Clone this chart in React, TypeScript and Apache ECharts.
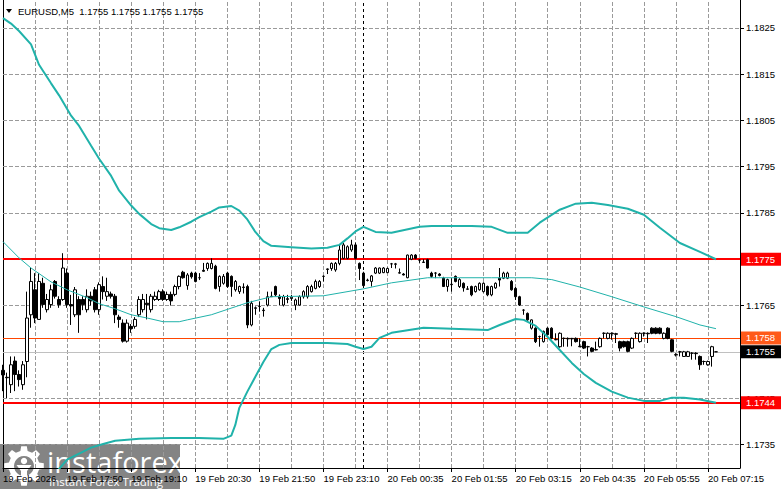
import React, { useEffect, useRef } from 'react';
import * as echarts from 'echarts';

// ---- DATA ----
// candles: [open, close, low, high]
const seg1 = [
  [1.17510,1.17500,1.17465,1.17522],[1.17495,1.17494,1.17450,1.17505],[1.17479,1.17522,1.17461,1.17540],
  [1.17530,1.17501,1.17465,1.17540],[1.17501,1.17490,1.17475,1.17510],[1.17479,1.17522,1.17468,1.17530],
  [1.17529,1.17623,1.17495,1.17680],[1.17630,1.17702,1.17602,1.17731],[1.17684,1.17623,1.17612,1.17720],
  [1.17620,1.17702,1.17620,1.17720],[1.17698,1.17652,1.17645,1.17710],[1.17641,1.17663,1.17635,1.17675],
  [1.17652,1.17684,1.17645,1.17695],[1.17702,1.17670,1.17665,1.17705],[1.17663,1.17652,1.17645,1.17670],
  [1.17663,1.17731,1.17660,1.17763],[1.17720,1.17652,1.17645,1.17730],[1.17652,1.17649,1.17608,1.17673],
  [1.17630,1.17684,1.17625,1.17690],[1.17663,1.17630,1.17591,1.17670],[1.17663,1.17652,1.17640,1.17670],
  [1.17641,1.17670,1.17635,1.17685],[1.17670,1.17660,1.17650,1.17680],[1.17684,1.17641,1.17635,1.17690],
  [1.17641,1.17695,1.17630,1.17700],[1.17691,1.17680,1.17663,1.17713],[1.17670,1.17680,1.17660,1.17710],
  [1.17675,1.17670,1.17665,1.17680],[1.17670,1.17630,1.17612,1.17675],[1.17625,1.17620,1.17602,1.17630],
  [1.17612,1.17573,1.17570,1.17620],[1.17573,1.17612,1.17570,1.17620],[1.17605,1.17600,1.17591,1.17610],
  [1.17605,1.17620,1.17600,1.17625],[1.17630,1.17663,1.17625,1.17670],[1.17641,1.17663,1.17635,1.17675],
  [1.17655,1.17652,1.17620,1.17675],[1.17641,1.17670,1.17635,1.17675],[1.17663,1.17670,1.17660,1.17680],
  [1.17663,1.17680,1.17660,1.17684],[1.17680,1.17663,1.17660,1.17685],[1.17663,1.17674,1.17660,1.17680],
  [1.17674,1.17660,1.17650,1.17680],[1.17674,1.17691,1.17670,1.17695],[1.17691,1.17713,1.17685,1.17715],
];
const seg2 = [
  [1.17722,1.17710,1.17708,1.17725],[1.17693,1.17716,1.17684,1.17720],[1.17720,1.17712,1.17708,1.17723],
  [1.17720,1.17702,1.17700,1.17723],[1.17710,1.17710,1.17705,1.17720],[1.17726,1.17724,1.17723,1.17742],
  [1.17730,1.17741,1.17725,1.17743],[1.17730,1.17741,1.17728,1.17752],[1.17735,1.17687,1.17685,1.17738],
  [1.17691,1.17713,1.17680,1.17715],[1.17698,1.17713,1.17695,1.17718],[1.17720,1.17691,1.17688,1.17723],
  [1.17713,1.17691,1.17669,1.17715],[1.17684,1.17702,1.17680,1.17705],[1.17680,1.17691,1.17675,1.17693],
  [1.17690,1.17689,1.17676,1.17698],[1.17691,1.17608,1.17601,1.17695],[1.17608,1.17655,1.17605,1.17660],
  [1.17645,1.17644,1.17630,1.17648],[1.17648,1.17648,1.17637,1.17659],[1.17640,1.17639,1.17626,1.17645],
  [1.17651,1.17669,1.17648,1.17680],[1.17670,1.17669,1.17669,1.17680],[1.17691,1.17673,1.17670,1.17693],
  [1.17670,1.17665,1.17651,1.17674],[1.17651,1.17669,1.17648,1.17673],[1.17663,1.17665,1.17655,1.17673],
  [1.17665,1.17668,1.17660,1.17673],[1.17651,1.17662,1.17640,1.17665],[1.17651,1.17669,1.17650,1.17672],
  [1.17669,1.17680,1.17665,1.17683],[1.17669,1.17691,1.17665,1.17694],[1.17680,1.17691,1.17678,1.17695],
  [1.17687,1.17702,1.17685,1.17706],[1.17691,1.17702,1.17688,1.17705],[1.17713,1.17713,1.17702,1.17715],
  [1.17729,1.17728,1.17718,1.17730],[1.17730,1.17741,1.17725,1.17743],[1.17727,1.17741,1.17723,1.17744],
  [1.17741,1.17770,1.17737,1.17781],[1.17752,1.17781,1.17750,1.17785],[1.17752,1.17777,1.17750,1.17780],
  [1.17770,1.17781,1.17766,1.17792],[1.17781,1.17752,1.17750,1.17786],[1.17741,1.17730,1.17705,1.17743],
];
const seg3 = [
  [1.17720,1.17693,1.17690,1.17723],[1.17704,1.17705,1.17702,1.17708],[1.17702,1.17714,1.17691,1.17716],
  [1.17720,1.17731,1.17718,1.17733],[1.17720,1.17731,1.17718,1.17732],[1.17721,1.17731,1.17720,1.17733],
  [1.17721,1.17730,1.17720,1.17732],[1.17740,1.17740,1.17731,1.17742],[1.17739,1.17740,1.17730,1.17742],
  [1.17720,1.17721,1.17719,1.17730],[1.17718,1.17716,1.17715,1.17720],[1.17710,1.17759,1.17709,1.17760],
  [1.17750,1.17759,1.17748,1.17761],[1.17759,1.17752,1.17750,1.17761],[1.17748,1.17748,1.17742,1.17750],
  [1.17743,1.17744,1.17742,1.17750],[1.17749,1.17731,1.17730,1.17751],[1.17720,1.17713,1.17710,1.17723],
  [1.17720,1.17720,1.17709,1.17722],[1.17718,1.17715,1.17713,1.17720],[1.17709,1.17691,1.17690,1.17712],
  [1.17691,1.17706,1.17680,1.17708],[1.17695,1.17696,1.17680,1.17709],[1.17713,1.17702,1.17700,1.17715],
  [1.17691,1.17706,1.17688,1.17709],[1.17698,1.17688,1.17680,1.17700],[1.17685,1.17686,1.17684,1.17692],
  [1.17691,1.17673,1.17670,1.17693],[1.17680,1.17691,1.17678,1.17693],[1.17684,1.17698,1.17682,1.17700],
  [1.17680,1.17698,1.17678,1.17700],[1.17691,1.17673,1.17670,1.17693],[1.17673,1.17691,1.17670,1.17693],
  [1.17688,1.17698,1.17686,1.17700],[1.17709,1.17705,1.17691,1.17731],[1.17709,1.17720,1.17707,1.17723],
  [1.17709,1.17720,1.17707,1.17723],[1.17702,1.17684,1.17682,1.17705],[1.17687,1.17669,1.17662,1.17690],
  [1.17669,1.17651,1.17649,1.17671],[1.17640,1.17640,1.17630,1.17642],[1.17633,1.17619,1.17617,1.17635],
  [1.17601,1.17619,1.17598,1.17620],[1.17601,1.17572,1.17569,1.17603],[1.17583,1.17583,1.17561,1.17585],
];
const seg4 = [
  [1.17572,1.17594,1.17570,1.17596],[1.17601,1.17587,1.17585,1.17603],[1.17601,1.17579,1.17577,1.17603],
  [1.17576,1.17577,1.17575,1.17590],[1.17561,1.17590,1.17559,1.17592],[1.17579,1.17579,1.17561,1.17581],
  [1.17579,1.17578,1.17561,1.17581],[1.17578,1.17579,1.17562,1.17580],[1.17579,1.17572,1.17570,1.17581],
  [1.17561,1.17562,1.17560,1.17579],[1.17572,1.17558,1.17556,1.17574],[1.17561,1.17561,1.17540,1.17563],
  [1.17558,1.17551,1.17549,1.17560],[1.17554,1.17555,1.17553,1.17572],[1.17561,1.17579,1.17559,1.17581],
  [1.17590,1.17590,1.17579,1.17592],[1.17579,1.17590,1.17577,1.17592],[1.17590,1.17589,1.17576,1.17592],
  [1.17589,1.17588,1.17569,1.17591],[1.17572,1.17558,1.17551,1.17574],[1.17572,1.17561,1.17559,1.17574],
  [1.17572,1.17551,1.17549,1.17574],[1.17558,1.17579,1.17556,1.17581],[1.17590,1.17590,1.17579,1.17592],
  [1.17572,1.17590,1.17570,1.17592],[1.17590,1.17590,1.17583,1.17592],[1.17590,1.17589,1.17569,1.17592],
  [1.17601,1.17590,1.17588,1.17603],[1.17601,1.17590,1.17588,1.17603],[1.17601,1.17590,1.17588,1.17603],
  [1.17579,1.17590,1.17577,1.17592],[1.17601,1.17579,1.17577,1.17603],[1.17576,1.17551,1.17549,1.17578],
  [1.17543,1.17544,1.17540,1.17547],[1.17550,1.17550,1.17540,1.17552],[1.17540,1.17550,1.17539,1.17552],
  [1.17540,1.17550,1.17539,1.17552],[1.17547,1.17547,1.17533,1.17549],[1.17547,1.17546,1.17533,1.17549],
  [1.17540,1.17522,1.17511,1.17542],[1.17529,1.17529,1.17522,1.17531],[1.17522,1.17529,1.17520,1.17531],
  [1.17540,1.17561,1.17518,1.17563],[1.17550,1.17550,1.17550,1.17550],
];

// Bollinger-style bands: [barIndex, price]
const upperBand = [
  [0,1.18271],[2,1.18259],[4,1.18243],[7,1.18214],[9,1.18170],[12,1.18130],[14,1.18104],[17,1.18060],
  [19,1.18038],[22,1.17995],[24,1.17967],[27,1.17930],[29,1.17898],[32,1.17866],[34,1.17848],[37,1.17826],
  [39,1.17817],[42,1.17813],[44,1.17819],[47,1.17831],[49,1.17841],[52,1.17853],[54,1.17862],[57,1.17865],
  [59,1.17855],[61,1.17836],[63,1.17809],[65,1.17789],[67,1.17779],[72,1.17776],[77,1.17773],[81,1.17775],
  [84,1.17781],[86,1.17795],[88,1.17810],[90,1.17820],[93,1.17809],[97,1.17807],[104,1.17820],[107,1.17822],
  [117,1.17822],[122,1.17820],[126,1.17807],[131,1.17807],[134,1.17829],[139,1.17857],[143,1.17870],
  [147,1.17872],[151,1.17867],[156,1.17859],[160,1.17846],[164,1.17818],[169,1.17785],[174,1.17766],[178,1.17750],
];
const middleLine = [
  [0,1.17788],[4,1.17753],[7,1.17731],[12,1.17701],[16,1.17684],[21,1.17667],[24,1.17654],[28,1.17643],
  [32,1.17630],[36,1.17623],[40,1.17615],[44,1.17615],[46,1.17619],[52,1.17630],[61,1.17656],[67,1.17669],
  [80,1.17671],[90,1.17686],[97,1.17699],[106,1.17710],[114,1.17710],[122,1.17710],[132,1.17710],
  [137,1.17706],[144,1.17690],[152,1.17669],[160,1.17647],[168,1.17626],[174,1.17608],[178,1.17600],
];
const lowerBand = [
  [12,1.17277],[16,1.17317],[19,1.17330],[22,1.17343],[25,1.17351],[28,1.17358],[34,1.17362],[42,1.17364],
  [49,1.17364],[55,1.17362],[57,1.17369],[58,1.17392],[59,1.17429],[61,1.17464],[63,1.17496],[65,1.17528],
  [67,1.17556],[69,1.17565],[72,1.17569],[81,1.17569],[86,1.17567],[88,1.17561],[90,1.17556],[92,1.17561],
  [94,1.17580],[97,1.17591],[105,1.17602],[121,1.17597],[124,1.17608],[128,1.17621],[130,1.17619],
  [133,1.17606],[136,1.17582],[139,1.17554],[142,1.17526],[145,1.17502],[148,1.17483],[152,1.17464],
  [156,1.17451],[160,1.17444],[164,1.17444],[167,1.17451],[170,1.17451],[174,1.17447],[178,1.17440],
];

const priceTicks = [1.1735, 1.1745, 1.1755, 1.1765, 1.1775, 1.1785, 1.1795, 1.1805, 1.1815, 1.1825];
const priceMin = 1.17299;
const priceMax = 1.1831;

const levels = [
  { value: 1.1775, color: '#ff0000', width: 2, bg: '#ff0000', text: '#ffffff' },
  { value: 1.1758, color: '#ff4500', width: 1, bg: '#ff5a1a', text: '#ffffff' },
  { value: 1.1755, color: '#c0c0c0', width: 1, bg: '#000000', text: '#ffffff' },
  { value: 1.1744, color: '#ff0000', width: 2, bg: '#ff0000', text: '#ffffff' },
];

const firstLabel = '19 Feb 2026';
const titleText = 'EURUSD,M5  1.1755 1.1755 1.1755 1.1755';
const separatorIndex = 90;
const totalSlots = 185;
const gridEvery = 8;

// category names (5-minute bars, 20 Feb 00:00 bar missing)
const categories: string[] = [];
for (let i = 0; i < totalSlots; i++) {
  let day: number;
  let mins: number;
  if (i < 90) { day = 19; mins = 16 * 60 + 30 + 5 * i; } else { day = 20; mins = 5 + 5 * (i - 90); }
  const hh = String(Math.floor(mins / 60)).padStart(2, '0');
  const mm = String(mins % 60).padStart(2, '0');
  categories.push(`${day} Feb ${hh}:${mm}`);
}

const candles = [...seg1, ...seg2, ...seg3, ...seg4];

// ---- logo shape ----
function gearPath(): string {
  const teeth = 8;
  const rOut = 20;
  const rIn = 15.5;
  const rHole = 10;
  const step = (Math.PI * 2) / teeth;
  const pts: number[][] = [];
  for (let k = 0; k < teeth; k++) {
    const a0 = k * step - Math.PI / 2 - step * 0.3;
    pts.push([rIn * Math.cos(a0), rIn * Math.sin(a0)]);
    pts.push([rOut * Math.cos(a0 + step * 0.12), rOut * Math.sin(a0 + step * 0.12)]);
    pts.push([rOut * Math.cos(a0 + step * 0.48), rOut * Math.sin(a0 + step * 0.48)]);
    pts.push([rIn * Math.cos(a0 + step * 0.6), rIn * Math.sin(a0 + step * 0.6)]);
  }
  let d = 'M' + pts.map((p) => p[0].toFixed(2) + ' ' + p[1].toFixed(2)).join(' L') + ' Z';
  const hole: number[][] = [];
  for (let k = 0; k < 24; k++) {
    const a = -(k / 24) * Math.PI * 2;
    hole.push([rHole * Math.cos(a), rHole * Math.sin(a)]);
  }
  d += ' M' + hole.map((p) => p[0].toFixed(2) + ' ' + p[1].toFixed(2)).join(' L') + ' Z';
  return d;
}
echarts.graphic.registerShape('gearlogo', echarts.graphic.extendPath(gearPath(), {}) as any);

const FONT = '"Liberation Sans", Arial, sans-serif';
const GRID_COLOR = '#9a9a9a';

export default function App() {
  const ref = useRef<HTMLDivElement>(null);
  useEffect(() => {
    document.body.style.margin = '0';
    if (!ref.current) return;
    const chart = echarts.init(ref.current, undefined, { renderer: 'svg' });

    const gridLineData: any[] = [];
    for (let i = gridEvery; i < totalSlots - 1; i += gridEvery) {
      if (i === separatorIndex) continue;
      gridLineData.push({
        xAxis: categories[i],
        lineStyle: { color: GRID_COLOR, type: 'dashed', width: 1 },
        label: { show: false },
      });
    }
    priceTicks.forEach((p) =>
      gridLineData.push({
        yAxis: p,
        lineStyle: { color: GRID_COLOR, type: 'dashed', width: 1 },
        label: { show: false },
      })
    );

    const option: any = {
      animation: false,
      backgroundColor: '#ffffff',
      grid: { left: 2, right: 41, top: 0, bottom: 21, containLabel: false },
      xAxis: {
        type: 'category',
        data: categories,
        boundaryGap: false,
        axisLine: { onZero: false, lineStyle: { color: '#000', width: 1 } },
        axisTick: { show: true, interval: 15, length: 4, lineStyle: { color: '#000' } },
        axisLabel: {
          interval: 15,
          align: 'left',
          margin: 5,
          color: '#000',
          fontSize: 9.5,
          fontFamily: FONT,
          formatter: (v: string, idx: number) => (idx === 0 ? firstLabel : v),
        },
        splitLine: { show: false },
      },
      yAxis: [
        {
          type: 'value',
          position: 'right',
          min: priceMin,
          max: priceMax,
          axisLine: { show: true, lineStyle: { color: '#000', width: 1 } },
          axisTick: { show: true, length: 4, customValues: priceTicks, lineStyle: { color: '#000' } },
          axisLabel: {
            customValues: priceTicks,
            color: '#000',
            fontSize: 9.5,
            fontFamily: FONT,
            margin: 6,
            formatter: (v: number) => v.toFixed(4),
          },
          splitLine: { show: false },
        },
        {
          type: 'value',
          position: 'left',
          min: priceMin,
          max: priceMax,
          axisLine: { show: true, lineStyle: { color: '#000', width: 1 } },
          axisTick: { show: false },
          axisLabel: { show: false },
          splitLine: { show: false },
        },
      ],
      series: [
        {
          type: 'candlestick',
          data: candles,
          barWidth: 3,
          z: 2,
          itemStyle: {
            color: '#ffffff',
            color0: '#000000',
            borderColor: '#000000',
            borderColor0: '#000000',
            borderColorDoji: '#000000',
            borderWidth: 1,
          },
          markLine: {
            silent: true,
            precision: 6,
            symbol: ['none', 'none'],
            animation: false,
            z: 1,
            data: [
              ...gridLineData,
              {
                xAxis: categories[separatorIndex],
                lineStyle: { color: '#000', type: [3, 3], width: 1 },
                label: { show: false },
              },
              ...levels.map((l) => ({
                yAxis: l.value,
                lineStyle: { color: l.color, width: l.width, type: 'solid' },
                label: {
                  show: true,
                  position: 'end',
                  distance: 1,
                  formatter: l.value.toFixed(4),
                  color: l.text,
                  backgroundColor: l.bg,
                  padding: [2, 8, 1, 5],
                  fontSize: 9.5,
                  fontFamily: FONT,
                },
              })),
            ],
          },
        },
        {
          type: 'line', data: upperBand, showSymbol: false, symbol: 'none', z: 3,
          lineStyle: { color: '#20b2aa', width: 2 },
        },
        {
          type: 'line', data: middleLine, showSymbol: false, symbol: 'none', z: 3,
          lineStyle: { color: '#20b2aa', width: 1 },
        },
        {
          type: 'line', data: lowerBand, showSymbol: false, symbol: 'none', z: 3,
          lineStyle: { color: '#20b2aa', width: 2 },
        },
      ],
      graphic: [
        {
          type: 'polygon',
          z: 100,
          shape: { points: [[6, 9], [12, 9], [9, 13]] },
          style: { fill: '#000' },
        },
        {
          type: 'text',
          z: 100,
          x: 18,
          y: 11,
          style: { text: titleText, fontSize: 9.5, fontFamily: FONT, fill: '#000', align: 'left', verticalAlign: 'middle' },
        },
        {
          type: 'group',
          z: 100,
          children: [
            { type: 'rect', shape: { x: 0, y: 444, width: 180, height: 45 }, style: { fill: 'rgba(105,105,105,0.82)' } },
            { type: 'gearlogo', x: 24, y: 466, style: { fill: '#ffffff' } },
            { type: 'circle', shape: { cx: 24, cy: 461, r: 3.2 }, style: { fill: '#ffffff' } },
            {
              type: 'polygon',
              shape: { points: [[16.5, 465], [31.5, 465], [27, 471], [27, 481], [21, 481], [21, 471]] },
              style: { fill: '#ffffff' },
            },
            {
              type: 'text', x: 47, y: 461,
              style: { text: 'instaforex', fontSize: 29, fontFamily: '"Open Sans", sans-serif', fill: '#ffffff', align: 'left', verticalAlign: 'middle' },
            },
            {
              type: 'text', x: 49, y: 481,
              style: { text: 'Instant Forex Trading', fontSize: 11.5, fontFamily: '"Open Sans", sans-serif', fill: '#ffffff', align: 'left', verticalAlign: 'middle' },
            },
          ],
        },
      ],
    };
    chart.setOption(option);
    return () => chart.dispose();
  }, []);
  return <div ref={ref} style={{ width: 781, height: 489 }} />;
}
